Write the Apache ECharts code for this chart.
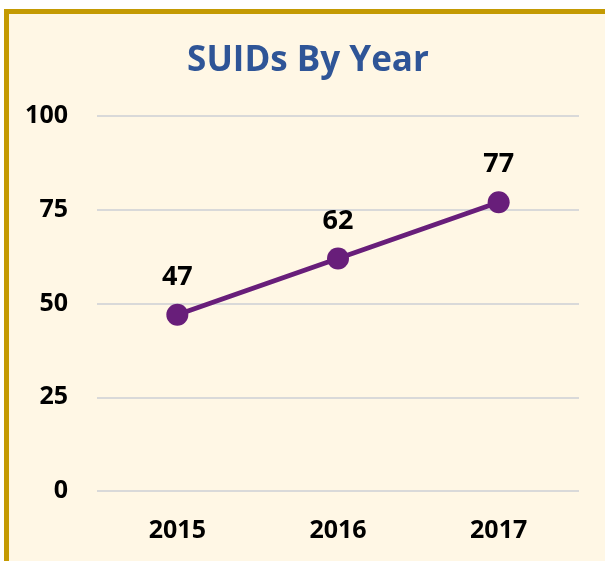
<!DOCTYPE html>
<html><head><meta charset="utf-8">
<script src="https://cdn.jsdelivr.net/npm/echarts@6/dist/echarts.min.js"></script>
<style>html,body{margin:0;padding:0;background:#fff;}#c{width:605px;height:561px;}</style>
</head><body><div id="c"></div>
<script>
var years = ['2015', '2016', '2017'];
var suids = [47, 62, 77];
var yTicks = [0, 25, 50, 75, 100];

var chart = echarts.init(document.getElementById('c'));
chart.setOption({
  backgroundColor: '#ffffff',
  animation: false,
  graphic: [
    {type: 'rect', z: -10, silent: true, shape: {x: 4, y: 9, width: 620, height: 570}, style: {fill: '#C49A02'}},
    {type: 'rect', z: -9, silent: true, shape: {x: 9, y: 14, width: 620, height: 570}, style: {fill: '#FFF7E5'}}
  ],
  title: {
    text: 'SUIDs By Year', left: 303, top: 39, textAlign: 'center',
    textStyle: {color: '#2F5597', fontSize: 35, fontWeight: 'bold', fontFamily: 'Open Sans'}
  },
  grid: {left: 97, right: 26, top: 116, bottom: 70},
  xAxis: {
    type: 'category', data: years, boundaryGap: true,
    axisLine: {show: false}, axisTick: {show: false},
    axisLabel: {color: '#000', fontSize: 25, fontWeight: 'bold', fontFamily: 'Open Sans', margin: 27}
  },
  yAxis: {
    type: 'value', min: yTicks[0], max: yTicks[yTicks.length - 1], interval: 25,
    axisLine: {show: false}, axisTick: {show: false},
    splitLine: {lineStyle: {color: '#D9D9D9', width: 2}},
    axisLabel: {color: '#000', fontSize: 25, fontWeight: 'bold', fontFamily: 'Open Sans', margin: 29}
  },
  series: [{
    type: 'line', data: suids,
    lineStyle: {color: '#681E7A', width: 5},
    itemStyle: {color: '#681E7A'},
    symbol: 'circle', symbolSize: 22,
    label: {show: true, position: 'top', distance: 13, color: '#000', fontSize: 27, fontWeight: 'bold', fontFamily: 'Open Sans'}
  }]
});
</script></body></html>
